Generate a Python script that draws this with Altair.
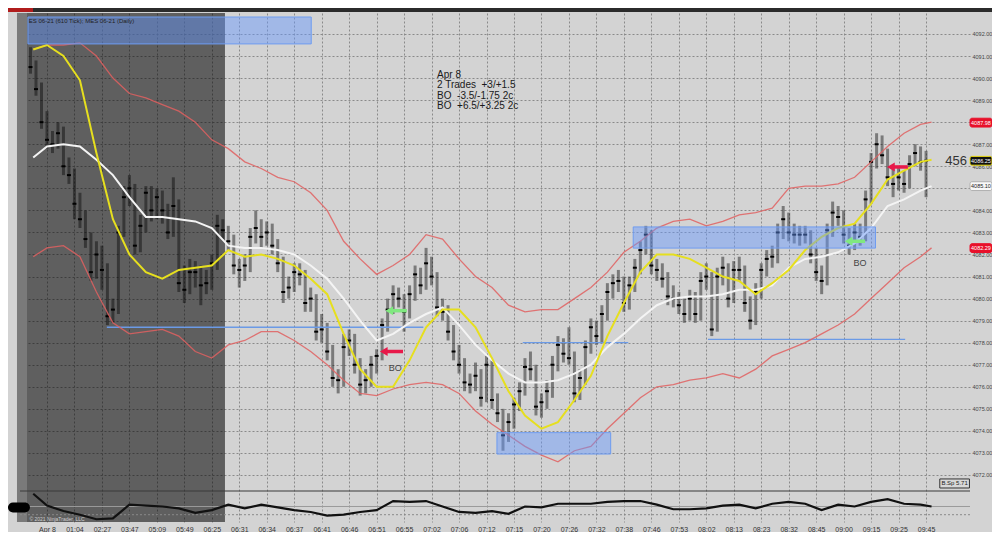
import altair as alt
import pandas as pd

# ---------------- data ----------------
time_labels = ["Apr 8", "01:04", "02:27", "03:47", "05:09", "05:49", "06:25", "06:31", "06:34",
               "06:37", "06:41", "06:46", "06:51", "06:55", "07:02", "07:06", "07:12", "07:15",
               "07:20", "07:26", "07:32", "07:38", "07:46", "07:53", "08:02", "08:13", "08:23",
               "08:32", "08:45", "09:00", "09:15", "09:25", "09:45"]
time_pos = list(range(3, 164, 5))          # bar index of each time label
price_ticks = list(range(4072, 4093))
hidden_price_labels = [4088, 4085]         # covered by the price tags in the reference

closes = [
    4090.5, 4089.5, 4088.0, 4087.2, 4087.0, 4087.5, 4086.0, 4085.6, 4084.3, 4083.6,
    4082.7, 4081.2, 4082.0, 4081.3, 4079.2, 4079.5, 4083.0, 4084.6, 4085.0, 4082.4,
    4083.3, 4084.8, 4084.0, 4084.6, 4084.0, 4083.0, 4084.2, 4080.7, 4080.4, 4081.2,
    4081.2, 4080.6, 4080.7, 4081.6, 4083.3, 4083.1, 4082.6, 4081.5, 4081.3, 4081.5,
    4082.8, 4083.2, 4082.8, 4083.0, 4082.4, 4081.6, 4080.3, 4080.5, 4081.2, 4081.1,
    4079.8, 4080.0, 4078.5, 4078.6, 4077.6, 4076.4, 4076.3, 4077.8, 4078.1, 4077.0,
    4076.1, 4076.3, 4077.0, 4077.4, 4078.8, 4079.5, 4080.2, 4080.0, 4079.4, 4080.2,
    4081.1, 4080.6, 4081.6, 4081.0, 4079.6, 4079.4, 4078.5, 4077.6, 4077.0, 4076.2,
    4076.1, 4076.5, 4075.5, 4077.0, 4075.4, 4074.8, 4073.8, 4074.4, 4075.2, 4075.8,
    4076.9, 4076.8, 4075.1, 4075.3, 4075.8, 4077.0, 4077.9, 4077.5, 4077.3, 4075.7,
    4076.4, 4077.8, 4078.7, 4078.3, 4079.3, 4080.3, 4080.7, 4080.8, 4079.8, 4080.6,
    4081.4, 4082.2, 4082.9, 4081.5, 4081.3, 4080.9, 4080.1, 4080.0, 4079.7, 4079.3,
    4080.0, 4079.3, 4080.8, 4081.0, 4078.6, 4081.0, 4081.4, 4080.0, 4081.3, 4081.3,
    4079.8, 4079.0, 4080.3, 4081.3, 4081.8, 4081.9, 4083.0, 4083.6, 4083.0, 4082.9,
    4082.9, 4082.9, 4082.0, 4081.2, 4080.8, 4083.1, 4083.9, 4083.7, 4082.9, 4082.4,
    4083.0, 4082.8, 4084.5, 4086.2, 4087.0, 4086.5, 4085.5, 4085.2, 4085.5, 4085.2,
    4086.1, 4086.6, 4086.2, 4086.25]
highs = [
    4091.4, 4090.8, 4089.8, 4088.5, 4087.6, 4088.0, 4087.8, 4086.4, 4085.9, 4084.8,
    4084.0, 4083.0, 4082.6, 4082.4, 4081.6, 4080.0, 4083.3, 4085.1, 4085.6, 4085.2,
    4083.8, 4085.1, 4085.1, 4085.0, 4084.9, 4084.3, 4085.5, 4084.5, 4081.5, 4081.8,
    4081.7, 4081.5, 4081.3, 4082.0, 4083.8, 4083.6, 4083.3, 4082.9, 4081.8, 4082.0,
    4083.2, 4084.0, 4083.6, 4083.5, 4083.4, 4082.7, 4081.9, 4081.0, 4081.6, 4081.6,
    4081.3, 4080.5, 4080.2, 4079.3, 4078.9, 4077.9, 4076.8, 4078.4, 4078.6, 4078.4,
    4077.3, 4076.8, 4077.4, 4077.7, 4079.1, 4080.0, 4080.6, 4080.5, 4080.2, 4080.6,
    4081.5, 4081.4, 4082.3, 4081.9, 4081.2, 4080.0, 4079.7, 4078.8, 4077.9, 4077.3,
    4076.6, 4077.1, 4076.8, 4077.4, 4077.2, 4075.7, 4075.0, 4074.8, 4075.5, 4076.2,
    4077.3, 4077.6, 4077.0, 4075.7, 4076.3, 4077.4, 4078.3, 4078.2, 4078.7, 4077.6,
    4076.8, 4078.1, 4079.1, 4079.0, 4079.7, 4080.7, 4081.1, 4081.3, 4081.0, 4081.0,
    4081.8, 4082.6, 4083.3, 4083.1, 4081.8, 4081.6, 4081.2, 4080.6, 4080.3, 4080.0,
    4080.4, 4080.3, 4081.2, 4081.6, 4081.2, 4081.4, 4081.9, 4081.6, 4081.7, 4081.9,
    4081.5, 4080.1, 4080.7, 4081.6, 4082.2, 4082.4, 4083.4, 4084.2, 4083.9, 4083.4,
    4083.3, 4083.3, 4083.1, 4082.3, 4081.5, 4083.4, 4084.4, 4084.2, 4084.0, 4083.2,
    4083.4, 4083.4, 4084.9, 4086.6, 4087.5, 4087.4, 4086.8, 4085.9, 4086.0, 4085.8,
    4086.5, 4087.0, 4086.9, 4086.7]
lows = [
    4090.2, 4089.2, 4087.7, 4086.8, 4086.6, 4086.8, 4085.6, 4085.2, 4083.6, 4083.2,
    4082.3, 4080.8, 4080.9, 4080.4, 4078.8, 4078.9, 4079.3, 4082.8, 4084.2, 4082.0,
    4082.1, 4083.0, 4083.5, 4083.6, 4083.4, 4082.7, 4082.8, 4080.3, 4079.8, 4080.2,
    4080.5, 4079.7, 4080.2, 4080.4, 4081.3, 4082.7, 4082.2, 4081.1, 4080.5, 4080.8,
    4081.2, 4082.5, 4082.3, 4082.4, 4082.0, 4081.2, 4079.8, 4080.0, 4080.3, 4080.6,
    4079.4, 4079.4, 4078.1, 4078.0, 4077.2, 4076.0, 4075.7, 4076.0, 4077.4, 4076.6,
    4075.6, 4075.7, 4076.0, 4076.6, 4077.2, 4078.5, 4079.3, 4079.6, 4078.5, 4079.1,
    4079.9, 4080.2, 4080.4, 4080.6, 4079.2, 4079.0, 4078.1, 4077.2, 4076.6, 4075.8,
    4075.7, 4075.8, 4075.1, 4075.3, 4075.0, 4074.4, 4073.1, 4073.5, 4074.1, 4074.9,
    4075.6, 4076.3, 4074.7, 4074.6, 4075.0, 4075.5, 4076.7, 4077.1, 4077.0, 4075.3,
    4075.4, 4076.1, 4077.5, 4077.9, 4078.0, 4079.0, 4080.0, 4080.3, 4079.4, 4079.5,
    4080.3, 4081.1, 4082.0, 4081.1, 4080.8, 4080.5, 4079.7, 4079.6, 4079.3, 4078.9,
    4079.0, 4078.9, 4079.0, 4080.4, 4078.3, 4078.5, 4080.6, 4079.6, 4079.8, 4080.8,
    4079.4, 4078.6, 4078.8, 4080.0, 4081.0, 4081.4, 4081.6, 4082.7, 4082.6, 4082.5,
    4082.4, 4082.5, 4081.6, 4080.8, 4080.2, 4080.6, 4082.8, 4083.3, 4082.5, 4082.0,
    4082.2, 4082.4, 4082.6, 4084.3, 4085.9, 4086.1, 4085.1, 4084.6, 4084.9, 4084.8,
    4085.0, 4086.0, 4085.8, 4084.6]

# moving averages, bands and oscillator, sampled at these bar positions
line_x = [0.5, 3, 6, 9, 12, 15, 18, 21, 24, 27, 30, 33, 36, 39, 42, 45, 48, 51, 54, 57,
          60, 63, 66, 69, 72, 75, 78, 81, 84, 87, 90, 93, 96, 99, 102, 105, 108, 111, 114,
          117, 120, 123, 126, 129, 132, 135, 138, 141, 144, 147, 150, 153, 156, 159, 162, 164]
yellow = [4091.3, 4091.5, 4091.0, 4089.9, 4086.6, 4083.6, 4082.0, 4081.2, 4080.9, 4081.3,
          4081.4, 4081.5, 4082.2, 4081.9, 4082.0, 4081.8, 4081.5, 4080.9, 4080.2, 4078.4,
          4076.8, 4076.0, 4076.0, 4077.2, 4078.7, 4079.5, 4079.5, 4078.7, 4077.3, 4075.8,
          4074.7, 4074.1, 4074.4, 4075.4, 4076.5, 4078.3, 4079.8, 4081.2, 4082.0, 4082.0,
          4081.8, 4081.4, 4081.0, 4080.8, 4080.2, 4080.7, 4081.3, 4082.2, 4082.8, 4083.2,
          4083.4, 4084.3, 4085.4, 4085.8, 4086.2, 4086.3]
white = [4086.4, 4086.9, 4087.0, 4086.9, 4086.3, 4085.6, 4084.6, 4083.7, 4083.7, 4083.6,
         4083.5, 4083.2, 4082.4, 4082.3, 4082.3, 4082.2, 4082.0, 4081.5, 4080.9, 4080.0,
         4079.0, 4078.1, 4078.4, 4078.9, 4079.3, 4079.6, 4078.8, 4077.9, 4077.2, 4076.6,
         4076.2, 4076.2, 4076.3, 4076.6, 4077.0, 4077.8, 4078.4, 4079.1, 4079.7, 4080.0,
         4080.1, 4080.1, 4080.2, 4080.4, 4080.4, 4080.6, 4081.4, 4081.8, 4081.9, 4082.1,
         4082.5, 4083.2, 4084.2, 4084.5, 4084.9, 4085.1]
upper = [4091.3, 4091.5, 4091.5, 4091.6, 4091.0, 4090.0, 4089.3, 4089.1, 4088.8, 4088.5,
         4088.0, 4087.2, 4086.8, 4086.2, 4085.9, 4085.5, 4085.3, 4084.8, 4084.0, 4082.6,
         4081.8, 4081.1, 4081.5, 4082.0, 4082.9, 4082.7, 4081.8, 4081.0, 4080.5, 4079.7,
         4079.4, 4079.5, 4079.5, 4080.0, 4080.5, 4081.2, 4082.1, 4082.6, 4083.2, 4083.5,
         4083.6, 4083.3, 4083.5, 4083.8, 4083.9, 4084.1, 4085.0, 4085.1, 4085.1, 4085.2,
         4085.5, 4086.2, 4086.9, 4087.5, 4087.9, 4088.0]
lower = [4081.9, 4082.3, 4082.4, 4081.9, 4080.3, 4078.9, 4078.4, 4078.5, 4078.6, 4078.3,
         4077.6, 4077.3, 4077.9, 4078.1, 4078.5, 4078.5, 4078.1, 4077.6, 4077.0, 4076.3,
         4075.7, 4075.6, 4075.9, 4076.1, 4076.2, 4076.1, 4075.7, 4074.9, 4074.3, 4073.8,
         4073.3, 4072.9, 4072.6, 4073.1, 4073.3, 4074.1, 4074.8, 4075.5, 4076.0, 4076.1,
         4076.3, 4076.4, 4076.6, 4076.4, 4076.8, 4077.4, 4077.7, 4078.0, 4078.4, 4078.8,
         4079.3, 4080.0, 4080.7, 4081.4, 4081.9, 4082.3]
osc = [14, 1, -5, -9, -14, -13, 2, 1, 0, -2, -7, -4, 2, -2, 2, -1, -4, -6, -10, -9,
       -6, -4, 6, 5, 6, 0, -6, -7, -5, -8, 0, -1, 3, 3, 3, 5, 6, 6, 2, -3,
       -3, -2, 1, 2, -2, 3, 5, 3, -4, 2, 0, 5, 8, 3, 2, 0]

# zones (blue boxes) and levels
zone_x1 = [-0.46, 84.9, 109.7]
zone_x2 = [51.1, 105.6, 153.8]
zone_top = [4092.77, 4073.92, 4083.25]
zone_bot = [4091.55, 4072.95, 4082.29]
level_x1 = [13.9, 89.6, 123.3]
level_x2 = [71.5, 108.8, 159.2]
level_y = [4078.7, 4078.0, 4078.15]

arrow_head = [64.3, 65.3, 156.6, 148.9]
arrow_tail = [67.8, 68.5, 159.7, 151.9]
arrow_y = [4077.6, 4079.45, 4085.97, 4082.6]
arrow_col = ["#e8194a", "#80e880", "#e8194a", "#80e880"]

bo_x = [66.4, 151.0]
bo_y = [4076.85, 4081.6]

NB = "\u00a0"
note_lines = ["Apr 8", "2 Trades" + NB * 2 + "+3/+1.5", "BO" + NB * 2 + "-3.5/-1.75 2c",
              "BO" + NB * 2 + "+6.5/+3.25 2c"]
note_y = [4090.16, 4089.68, 4089.21, 4088.74]

tag_vals = [4087.98, 4086.25, 4085.10, 4082.29]
tag_fill = ["#e8102a", "#111111", "#f8f8f8", "#e8102a"]
tag_stroke = ["#e8102a", "#f0e010", "#b0b0b0", "#e8102a"]
tag_text = ["#ffffff", "#ffffff", "#222222", "#ffffff"]

# ---------------- geometry constants ----------------
X_MIN, X_MAX = -1.91, 171.0
P_MIN, P_MAX = 4069.868, 4092.952
I_MIN, I_MAX = -17.0, 541.2
SHADE_X0, SHADE_X1 = -0.64, 35.4
STRIP_X0 = -2.46
TAG_X0, TAG_X1, TAG_XC = 171.0, 175.0, 173.0
FONT = "Liberation Sans"

xs = alt.Scale(domain=[X_MIN, X_MAX], nice=False, zero=False)
ps = alt.Scale(domain=[P_MIN, P_MAX], nice=False, zero=False)
iscale = alt.Scale(domain=[I_MIN, I_MAX], nice=False, zero=False)

label_arr = "[" + ",".join("'" + t + "'" for t in time_labels) + "]"
hidden_cond = " || ".join(f"datum.value == {v}" for v in hidden_price_labels)
x_axis = alt.Axis(values=time_pos, labelExpr=label_arr + "[round((datum.value - 3) / 5)]",
                  grid=True, gridDash=[2, 2], gridColor="#8a8a8a", ticks=False, domain=False,
                  labelFontSize=7, labelFont=FONT, labelColor="#333333", labelPadding=3,
                  title=None, labelFlush=False, labelOverlap=False, labelBound=False)
y_axis = alt.Axis(orient="right", values=price_ticks,
                  labelExpr=f"({hidden_cond}) ? '' : format(datum.value, '.2f')",
                  grid=True, gridDash=[2, 2],
                  gridColor="#8a8a8a", ticks=False, domain=False, labelFontSize=5.5,
                  labelFont=FONT, labelColor="#444444", labelPadding=2, title=None,
                  labelOverlap=False, labelFlush=False)


def X(f):
    return alt.X(f, type="quantitative", scale=xs, axis=x_axis)


def P(f):
    return alt.Y(f, type="quantitative", scale=ps, axis=y_axis)


def I(f):
    return alt.Y(f, type="quantitative", scale=iscale, axis=None)


bars = pd.DataFrame({"i": list(range(len(closes))), "close": closes, "high": highs, "low": lows})
lines = pd.DataFrame({"x": line_x, "yellow": yellow, "white": white, "upper": upper,
                      "lower": lower, "osc": osc})
one = pd.DataFrame({"a": [0]})

strip = alt.Chart(pd.DataFrame({"x1": [STRIP_X0], "x2": [SHADE_X0], "y1": [P_MIN], "y2": [P_MAX]})).mark_rect(
    color="#7a7a7a").encode(x=X("x1"), x2="x2", y=P("y1"), y2="y2")
shade = alt.Chart(pd.DataFrame({"x1": [SHADE_X0], "x2": [SHADE_X1], "y1": [P_MIN], "y2": [P_MAX]})).mark_rect(
    color="black", opacity=0.55).encode(x=X("x1"), x2="x2", y=P("y1"), y2="y2")

toolbar = alt.Chart(one).mark_rect(color="#2b2b2b").encode(
    x=alt.value(-12), x2=alt.value(972), y=alt.value(-5), y2=alt.value(-1))
toolbar_red = alt.Chart(one).mark_rect(color="#b01c1c").encode(
    x=alt.value(-12), x2=alt.value(13), y=alt.value(-5), y2=alt.value(-1))

bar_rules = alt.Chart(bars).mark_rule(color="black", opacity=0.42, strokeWidth=3).encode(
    x=X("i"), y=P("low"), y2="high")
close_ticks = alt.Chart(bars).mark_tick(color="black", orient="horizontal", size=4, thickness=2,
                                        opacity=1).encode(x=X("i"), y=P("close"))

levels = alt.Chart(pd.DataFrame({"x1": level_x1, "x2": level_x2, "y": level_y})).mark_rule(
    color="#6b9ae6", strokeWidth=1.3).encode(x=X("x1"), x2="x2", y=P("y"))

upper_l = alt.Chart(lines).mark_line(color="#e06060", strokeWidth=1.3, opacity=0.85).encode(
    x=X("x"), y=P("upper"))
lower_l = alt.Chart(lines).mark_line(color="#e06060", strokeWidth=1.3, opacity=0.85).encode(
    x=X("x"), y=P("lower"))
white_l = alt.Chart(lines).mark_line(color="#f4f4f4", strokeWidth=2).encode(x=X("x"), y=P("white"))
yellow_l = alt.Chart(lines).mark_line(color="#e6df1e", strokeWidth=2).encode(x=X("x"), y=P("yellow"))

zones = alt.Chart(pd.DataFrame({"x1": zone_x1, "x2": zone_x2, "t": zone_top, "b": zone_bot})).mark_rect(
    fill="#6496ff", fillOpacity=0.45, stroke="#6f9cf0", strokeWidth=1).encode(
    x=X("x1"), x2="x2", y=P("b"), y2="t")

arrows_df = pd.DataFrame({"h": arrow_head, "t": arrow_tail, "y": arrow_y, "c": arrow_col})
arrow_shaft = alt.Chart(arrows_df).mark_rule(strokeWidth=3.5).encode(
    x=X("h"), x2="t", y=P("y"), color=alt.Color("c:N", scale=None))
arrow_tip = alt.Chart(arrows_df).mark_point(shape="triangle-left", filled=True, size=80, opacity=1).encode(
    x=X("h"), y=P("y"), color=alt.Color("c:N", scale=None))

bo_text = alt.Chart(pd.DataFrame({"x": bo_x, "y": bo_y, "t": ["BO", "BO"]})).mark_text(
    font=FONT, fontSize=9, color="#444444", align="center", baseline="middle").encode(
    x=X("x"), y=P("y"), text="t:N")

notes = alt.Chart(pd.DataFrame({"x": [74.0] * 4, "y": note_y, "t": note_lines})).mark_text(
    font=FONT, fontSize=10, color="#1a1a1a", align="left", baseline="middle").encode(
    x=X("x"), y=P("y"), text="t:N")

header = alt.Chart(pd.DataFrame({"x": [-0.3], "y": [4092.6],
                                 "t": ["ES 06-21 (610 Tick); MES 06-21 (Daily)"]})).mark_text(
    font=FONT, fontSize=6, color="#222222", align="left", baseline="middle").encode(
    x=X("x"), y=P("y"), text="t:N")

count_text = alt.Chart(pd.DataFrame({"x": [166.5], "y": [4086.24], "t": ["456"]})).mark_text(
    font=FONT, fontSize=13, color="#333333", align="left", baseline="middle").encode(
    x=X("x"), y=P("y"), text="t:N")

tags_df = pd.DataFrame({"x1": [TAG_X0] * 4, "x2": [TAG_X1] * 4, "xc": [TAG_XC] * 4,
                        "v": tag_vals, "lo": [v - 0.2 for v in tag_vals],
                        "hi": [v + 0.2 for v in tag_vals],
                        "fill": tag_fill, "stroke": tag_stroke, "tc": tag_text,
                        "t": [f"{v:.2f}" for v in tag_vals]})
tags = alt.Chart(tags_df).mark_rect(cornerRadius=2, strokeWidth=1).encode(
    x=X("x1"), x2="x2", y=P("lo"), y2="hi",
    fill=alt.Fill("fill:N", scale=None), stroke=alt.Stroke("stroke:N", scale=None))
tag_txt = alt.Chart(tags_df).mark_text(font=FONT, fontSize=5.5, align="center", baseline="middle").encode(
    x=X("xc"), y=P("v"), text="t:N", color=alt.Color("tc:N", scale=None))

bsp_box = alt.Chart(pd.DataFrame({"x1": [165.5], "x2": [170.9], "lo": [4071.41], "hi": [4071.82]})).mark_rect(
    fill="#d8d8d8", stroke="#333333", strokeWidth=1).encode(x=X("x1"), x2="x2", y=P("lo"), y2="hi")
bsp_txt = alt.Chart(pd.DataFrame({"x": [168.2], "y": [4071.615], "t": ["B.Sp 5.71"]})).mark_text(
    font=FONT, fontSize=6, color="#222222", align="center", baseline="middle").encode(
    x=X("x"), y=P("y"), text="t:N")

main = alt.layer(strip, shade, toolbar, toolbar_red, bar_rules, close_ticks, levels,
                 upper_l, lower_l, white_l, yellow_l, zones, arrow_shaft, arrow_tip, bo_text,
                 notes, header, count_text, tags, tag_txt, bsp_box, bsp_txt)

# ---------------- indicator panel ----------------
sep = alt.Chart(pd.DataFrame({"x1": [X_MIN], "x2": [X_MAX], "v": [17]})).mark_rule(
    color="#3a3a3a", strokeWidth=1.2).encode(x=X("x1"), x2="x2", y=I("v"))
zero = alt.Chart(pd.DataFrame({"x1": [X_MIN], "x2": [X_MAX], "v": [0]})).mark_rule(
    color="#9a9a9a", strokeWidth=1).encode(x=X("x1"), x2="x2", y=I("v"))
dash = alt.Chart(pd.DataFrame({"x1": [X_MIN], "x2": [X_MAX], "v": [-9]})).mark_rule(
    color="#8a8a8a", strokeWidth=1, strokeDash=[2, 2]).encode(x=X("x1"), x2="x2", y=I("v"))
osc_l = alt.Chart(lines).mark_line(color="#111111", strokeWidth=2.2).encode(x=X("x"), y=I("osc"))
pill = alt.Chart(pd.DataFrame({"x1": [-4.1], "x2": [-0.1], "lo": [-6.5], "hi": [4.5]})).mark_rect(
    color="black", cornerRadius=5).encode(x=X("x1"), x2="x2", y=I("lo"), y2="hi")
copy_txt = alt.Chart(pd.DataFrame({"x": [-0.2], "v": [-13.5], "t": ["© 2021 NinjaTrader, LLC"]})).mark_text(
    font=FONT, fontSize=5, color="#cfcfcf", align="left", baseline="middle").encode(
    x=X("x"), y=I("v"), text="t:N")

ind = alt.layer(zero, dash, osc_l, sep, pill, copy_txt)

chart = alt.layer(main, ind).resolve_scale(y="independent").properties(
    width=950, height=509,
    padding={"left": 12, "top": 5, "right": 22, "bottom": 10},
    autosize=alt.AutoSizeParams(type="none"),
).configure(background="#d3d3d3").configure_view(stroke=None)

chart.save("out.html", embed_options={"renderer": "svg", "actions": False})
